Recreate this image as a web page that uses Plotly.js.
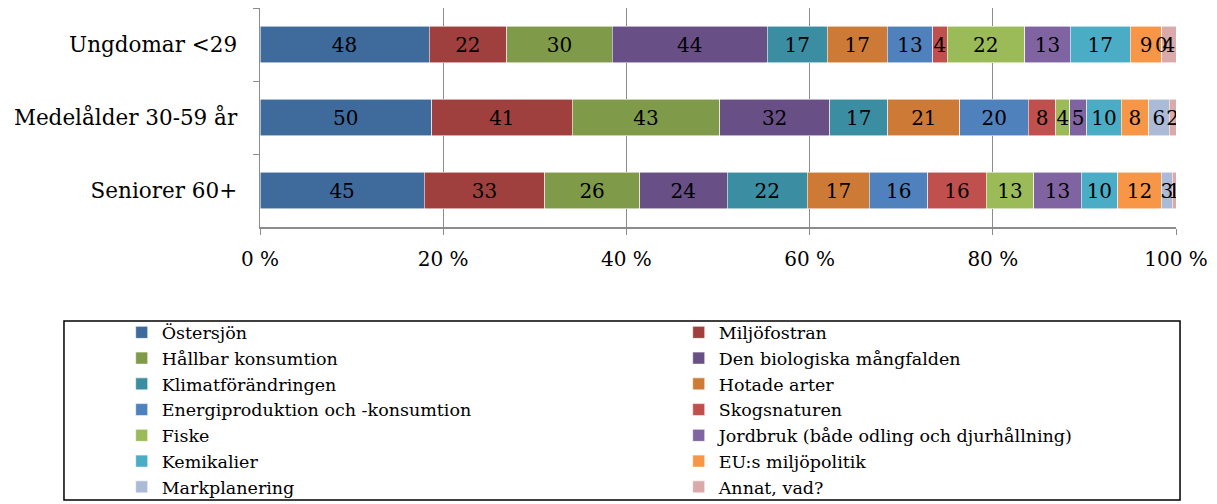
<!DOCTYPE html>
<html>
<head>
<meta charset="utf-8">
<script src="https://cdn.plot.ly/plotly-3.0.1.min.js"></script>
<style>html,body{margin:0;padding:0;background:#fff;}#chart{width:1217px;height:504px;}</style>
</head>
<body>
<div id="chart"></div>
<script>
const categories = ["Ungdomar <29", "Medelålder 30-59 år", "Seniorer 60+"];
const seriesNames = ["Östersjön", "Miljöfostran", "Hållbar konsumtion", "Den biologiska mångfalden",
  "Klimatförändringen", "Hotade arter", "Energiproduktion och -konsumtion", "Skogsnaturen",
  "Fiske", "Jordbruk (både odling och djurhållning)", "Kemikalier", "EU:s miljöpolitik",
  "Markplanering", "Annat, vad?"];
const ostersjon = [48, 50, 45];
const miljofostran = [22, 41, 33];
const hallbar = [30, 43, 26];
const biologiska = [44, 32, 24];
const klimat = [17, 17, 22];
const hotade = [17, 21, 17];
const energi = [13, 20, 16];
const skog = [4, 8, 16];
const fiske = [22, 4, 13];
const jordbruk = [13, 5, 13];
const kemikalier = [17, 10, 10];
const eu = [9, 8, 12];
const markplanering = [0, 6, 3];
const annat = [4, 2, 1];
const seriesValues = [ostersjon, miljofostran, hallbar, biologiska, klimat, hotade, energi,
  skog, fiske, jordbruk, kemikalier, eu, markplanering, annat];
const colors = ["#3F6A9C", "#A0403E", "#7F9A48", "#684F86", "#3B8DA2", "#CD7A37", "#4F81BD",
  "#C0504D", "#9BBB59", "#8064A2", "#4BACC6", "#F79646", "#AABAD7", "#D9AAA9"];
const xTicks = [0, 20, 40, 60, 80, 100];

const FONT = "DejaVu Serif, Georgia, serif";
const traces = seriesNames.map((name, i) => ({
  type: "bar",
  orientation: "h",
  name: name,
  legend: i % 2 === 0 ? "legend" : "legend2",
  y: categories,
  x: seriesValues[i],
  text: seriesValues[i].map(String),
  textposition: "inside",
  insidetextanchor: "middle",
  textangle: 0,
  textfont: {family: FONT, size: 20, color: "#000"},
  marker: {color: colors[i], line: {color: "rgba(255,255,255,0.7)", width: 0.8}},
  hoverinfo: "x+y+name"
}));

// Labels for zero-valued segments (Plotly does not draw text on empty bars)
const annotations = [];
categories.forEach((cat, c) => {
  const total = seriesValues.reduce((s, arr) => s + arr[c], 0);
  let cum = 0;
  seriesValues.forEach(arr => {
    if (arr[c] === 0) {
      annotations.push({
        x: cum / total * 100, y: cat, xref: "x", yref: "y",
        text: String(arr[c]), showarrow: false,
        font: {family: FONT, size: 20, color: "#000"}
      });
    }
    cum += arr[c];
  });
});

const legendBase = {
  orientation: "v", traceorder: "normal",
  xref: "container", yref: "container",
  xanchor: "left", y: 0.376, yanchor: "top",
  font: {family: FONT, size: 17.5, color: "#000"},
  bgcolor: "rgba(0,0,0,0)", borderwidth: 0, itemclick: false
};

const layout = {
  width: 1217, height: 504,
  margin: {l: 260, r: 41, t: 8, b: 277, autoexpand: false},
  paper_bgcolor: "#fff", plot_bgcolor: "#fff",
  barmode: "stack", barnorm: "percent", bargap: 0.5,
  font: {family: FONT, size: 20, color: "#000"},
  uniformtext: {mode: "show", minsize: 20},
  showlegend: true,
  xaxis: {
    range: [0, 100], tickvals: xTicks, ticktext: xTicks.map(v => v + " %"),
    tickangle: 0,
    showgrid: true, gridcolor: "#8c8c8c", gridwidth: 1,
    showline: true, linecolor: "#8c8c8c", linewidth: 1.5,
    ticks: "outside", ticklen: 6, tickcolor: "#8c8c8c",
    zeroline: false, tickfont: {family: FONT, size: 20}, ticklabelstandoff: 7,
    automargin: false
  },
  yaxis: {
    type: "category", autorange: "reversed",
    showline: true, linecolor: "#8c8c8c", linewidth: 1.5,
    ticks: "outside", ticklen: 6, tickcolor: "#8c8c8c", tickson: "boundaries",
    showgrid: false, zeroline: false, tickfont: {family: FONT, size: 21.5}, ticklabelstandoff: 17,
    automargin: false
  },
  legend: Object.assign({}, legendBase, {x: 0.1}),
  legend2: Object.assign({}, legendBase, {x: 0.5577}),
  annotations: annotations,
  shapes: [{
    type: "rect", xref: "paper", yref: "paper",
    x0: -0.214, x1: 1.0044, y0: -1.247, y1: -0.429,
    line: {color: "#000", width: 1.5}, fillcolor: "rgba(0,0,0,0)"
  }]
};

Plotly.newPlot("chart", traces, layout, {displayModeBar: false, staticPlot: true});
</script>
</body>
</html>
